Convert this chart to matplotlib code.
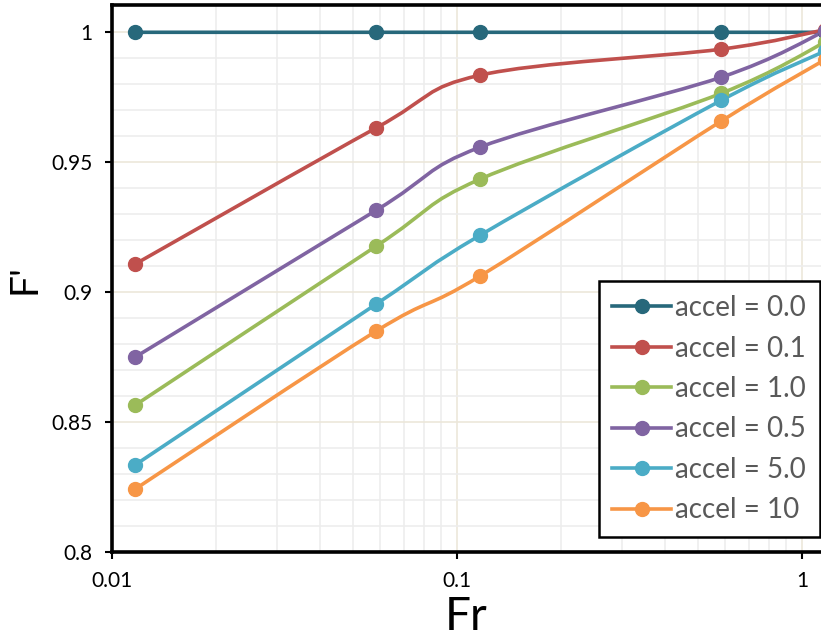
import numpy as np
import matplotlib
matplotlib.use("Agg")
import matplotlib.pyplot as plt
from matplotlib.path import Path
from matplotlib.patches import PathPatch
from matplotlib.lines import Line2D
from matplotlib.ticker import FixedLocator, NullFormatter

plt.rcParams['font.family'] = ['Lato', 'DejaVu Sans']

# données
fr = [0.01167, 0.0583, 0.1167, 0.583, 1.167]
labels = ['accel = 0.0', 'accel = 0.1', 'accel = 1.0', 'accel = 0.5', 'accel = 5.0', 'accel = 10']
f_00 = [1.0, 1.0, 1.0, 1.0, 1.0]
f_01 = [0.9108, 0.9632, 0.9835, 0.9935, 1.0010]
f_10 = [0.8565, 0.9177, 0.9435, 0.9765, 0.9962]
f_05 = [0.8750, 0.9315, 0.9558, 0.9827, 1.0005]
f_50 = [0.8335, 0.8954, 0.9219, 0.9738, 0.9928]
f_100 = [0.8242, 0.8850, 0.9062, 0.9658, 0.9895]
series = [f_00, f_01, f_10, f_05, f_50, f_100]
colors = ['#27687B', '#C0504D', '#9BBB59', '#8064A2', '#4BACC6', '#F79646']

fig = plt.figure(figsize=(8.21, 6.41), dpi=100)
ax = fig.add_axes([112/821, 1 - 552/641, 1 - 112/821, (552 - 5)/641])
ax.set_xscale('log')


def smooth_path(x, y):
    # courbe lissée façon Excel (Bezier) dans l'espace log
    lx = np.log10(x)
    y = np.asarray(y)
    n = len(lx)
    verts = [(x[0], y[0])]
    codes = [Path.MOVETO]
    for i in range(n - 1):
        p0 = (lx[max(i - 1, 0)], y[max(i - 1, 0)])
        p1 = (lx[i], y[i])
        p2 = (lx[i + 1], y[i + 1])
        p3 = (lx[min(i + 2, n - 1)], y[min(i + 2, n - 1)])
        c1 = (p1[0] + (p2[0] - p0[0]) / 6, p1[1] + (p2[1] - p0[1]) / 6)
        c2 = (p2[0] - (p3[0] - p1[0]) / 6, p2[1] - (p3[1] - p1[1]) / 6)
        verts += [(10 ** c1[0], c1[1]), (10 ** c2[0], c2[1]), (10 ** p2[0], p2[1])]
        codes += [Path.CURVE4] * 3
    return Path(verts, codes)


handles = []
for yv, c, lab in zip(series, colors, labels):
    ax.add_patch(PathPatch(smooth_path(fr, yv), fill=False, edgecolor=c, lw=2.6, zorder=3))
    ax.plot(fr, yv, 'o', color=c, ms=10, zorder=4)
    handles.append(Line2D([], [], color=c, lw=2.6, marker='o', ms=10, label=lab))

ax.set_xlim(0.01, 10 ** ((821 - 112) / 345 - 2))
ax.set_ylim(0.8, 1.0105)

ax.yaxis.set_major_locator(FixedLocator([0.8, 0.85, 0.9, 0.95, 1.0]))
ax.yaxis.set_minor_locator(FixedLocator(np.arange(0.81, 1.01, 0.01)))
ax.set_yticklabels(['0.8', '0.85', '0.9', '0.95', '1'])
ax.xaxis.set_major_locator(FixedLocator([0.01, 0.1, 1]))
ax.set_xticklabels(['0.01', '0.1', '1'])
ax.xaxis.set_minor_locator(FixedLocator([k * 10.0 ** e for e in (-2, -1, 0) for k in range(2, 10)]))
ax.xaxis.set_minor_formatter(NullFormatter())

ax.grid(which='minor', color='#EDEDED', lw=1.2, zorder=0)
ax.grid(which='major', color='#ECE7DA', lw=1.2, zorder=0)
ax.set_axisbelow(True)

for s in ['left', 'bottom', 'top']:
    ax.spines[s].set_linewidth(2.6)
ax.spines['right'].set_visible(False)
ax.tick_params(which='major', direction='out', length=5, width=1.5, labelsize=15, pad=9)
ax.tick_params(which='minor', length=0)

ax.set_xlabel('Fr', fontsize=33, labelpad=3)
ax.set_ylabel("F'", fontsize=28, labelpad=6)

leg = ax.legend(handles=handles, loc='lower right', bbox_to_anchor=(0.998, 0.027),
                borderaxespad=0, fontsize=20, frameon=True, fancybox=False,
                edgecolor='black', framealpha=1, handlelength=2.1, handletextpad=0.15,
                labelspacing=0.52, borderpad=0.5)
leg.get_frame().set_linewidth(1.8)
for t in leg.get_texts():
    t.set_color('#595959')

fig.savefig('out.png', dpi=100)
